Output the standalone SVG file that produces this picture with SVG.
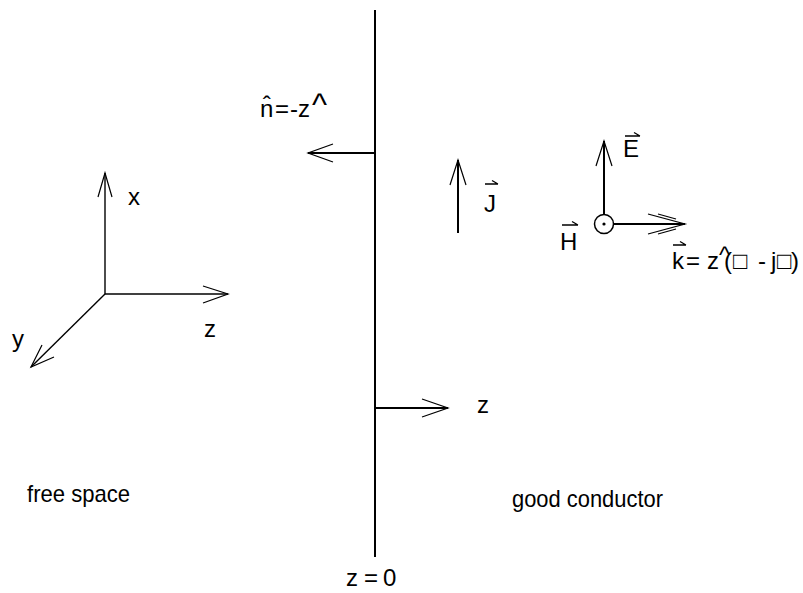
<svg xmlns="http://www.w3.org/2000/svg" width="803" height="593" viewBox="0 0 803 593">
<style>
.ln{stroke:#000;stroke-width:2;fill:none;stroke-linecap:butt}
.ax{stroke:#000;stroke-width:1.4;fill:none}
.hd{stroke:#000;stroke-width:1.2;fill:none}
.vec{stroke:#000;stroke-width:1.3;fill:none}
text{font-family:"Liberation Sans",Arial,sans-serif;font-size:24px;fill:#000}
.big{font-size:32px}
</style>
<rect width="803" height="593" fill="#fff"/>
<g id="connectors">
  <line class="ln" x1="375" y1="10" x2="375" y2="557"/>
  <line class="ln" x1="375" y1="153" x2="308" y2="153"/>
  <polyline class="hd" points="333,144 308,153 333,162"/>
  <line class="ln" x1="375" y1="408" x2="448" y2="408"/>
  <polyline class="hd" points="422,399 448,408 422,417"/>
  <line class="ln" x1="458" y1="233" x2="458" y2="160"/>
  <polyline class="hd" points="450,185 458,160 466,185"/>
  <line class="ln" x1="604" y1="214" x2="604" y2="141"/>
  <polyline class="hd" points="596,166 604,141 612,166"/>
  <line class="ln" x1="614" y1="224" x2="685" y2="224"/>
  <polyline class="hd" points="648,214 685,224 648,234"/>
  <polyline class="hd" points="658,214 676,219"/>
  <polyline class="hd" points="658,234 676,229"/>
  <line class="ax" x1="105" y1="294" x2="105" y2="173"/>
  <polyline class="hd" points="98,197 105,173 112,197"/>
  <line class="ax" x1="105" y1="294" x2="228" y2="294"/>
  <polyline class="hd" points="203,286 228,294 203,303"/>
  <line class="ax" x1="105" y1="294" x2="31" y2="367"/>
  <polyline class="hd" points="54,357 31,367 42,345"/>
</g>
<g id="H-symbol">
  <circle cx="604" cy="224" r="9.5" fill="#fff" stroke="#000" stroke-width="1.5"/>
  <circle cx="604" cy="224" r="1.6" fill="#000"/>
</g>
<g id="label-n">
  <text y="117"><tspan x="260">n̂</tspan><tspan x="275">=</tspan><tspan x="290">-</tspan><tspan x="298">z</tspan><tspan class="big" x="312" dy="-2">^</tspan></text>
</g>
<g id="label-J">
  <text x="484" y="212">J</text>
  <path class="vec" d="M485,184 H498 M492,180.5 L498,184"/>
</g>
<g id="label-E">
  <text x="623" y="157">E</text>
  <path class="vec" d="M625,136 H640 M634,132.5 L640,136"/>
</g>
<g id="label-H">
  <text x="560" y="250">H</text>
  <path class="vec" d="M562,225 H578 M572,221.5 L578,225"/>
</g>
<g id="label-k">
  <text x="672 686 707 719 724 733 758 771 777 791" y="269 269 269 263 269 269 269 269 269 269">k=z^(□-j□)</text>
  <path class="vec" d="M673,245 H686 M680,241.5 L686,245"/>
</g>
<g id="axis-labels">
  <text x="128" y="205">x</text>
  <text x="204" y="337">z</text>
  <text x="12" y="347">y</text>
  <text x="477" y="413">z</text>
</g>
<g id="region-labels">
  <text x="27" y="502" textLength="103" lengthAdjust="spacingAndGlyphs">free space</text>
  <text x="512" y="507" textLength="151" lengthAdjust="spacingAndGlyphs">good conductor</text>
  <text x="346 364 383" y="586">z=0</text>
</g>
</svg>
